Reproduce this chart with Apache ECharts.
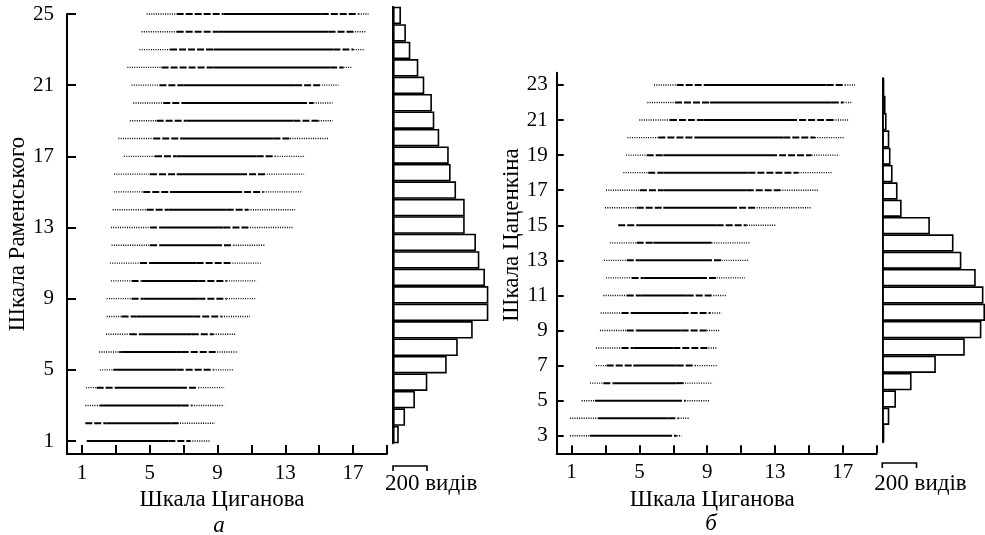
<!DOCTYPE html>
<html>
<head>
<meta charset="utf-8">
<script src="https://cdn.jsdelivr.net/npm/echarts@6/dist/echarts.min.js"></script>
<style>html,body{margin:0;padding:0;background:#fff}#c{width:985px;height:535px}</style>
</head>
<body>
<div id="c"></div>
<script>
// ---------- Panel а (Раменський vs Циганов) ----------
const leftRows      = [1,2,3,4,5,6,7,8,9,10,11,12,13,14,15,16,17,18,19,20,21,22,23,24,25];
const leftDotStart  = [1.28,1.2,1.2,1.24,2.06,2.02,2.42,2.46,2.46,2.71,2.65,2.75,2.71,2.81,2.89,2.89,3.48,3.15,3.83,4.03,3.93,3.68,4.39,4.52,4.82];
const leftDashStart = [1.28,1.2,2.06,1.87,2.85,3.2,3.83,3.34,3.93,3.93,4.43,5.02,5.02,4.82,4.62,5.02,5.31,5.21,5.41,5.8,5.57,5.7,6.2,6.59,6.59];
const leftSolidStart= [1.28,2.46,2.06,2.95,2.85,3.34,4.52,4.23,4.62,4.52,5.02,5.57,5.9,6.1,6.2,6.59,6.59,6.79,7.18,6.89,6.98,8.76,8.76,9.05,9.35];
const leftSolidEnd  = [6.1,6.3,6.89,6.79,6.59,6.89,7.48,7.57,7.87,7.87,7.77,8.85,9.35,9.54,10.04,10.33,11.31,12.3,13.48,13.87,13.58,15.65,15.84,15.55,15.15];
const leftDashEnd   = [7.38,6.79,7.48,7.87,8.76,8.85,8.76,9.25,9.54,9.54,9.74,9.94,10.92,10.82,11.71,11.91,12.4,13.28,14.96,14.66,15.15,16.43,17.02,17.12,17.32];
const leftDotEnd    = [8.56,8.85,9.39,9.39,9.98,10.17,10.04,10.92,11.22,11.31,11.55,11.81,13.48,13.58,13.97,14.11,14.17,15.55,15.8,15.78,16.14,16.93,17.71,17.77,17.91];
const leftSpecies   = [34,71,129,202,316,381,469,561,561,541,508,488,422,422,371,339,328,272,243,229,184,149,102,76,47];

// ---------- Panel б (Цаценкін vs Циганов) ----------
const rightRows      = [3,4,5,6,7,8,9,10,11,12,13,14,15,16,17,18,19,20,21,22,23];
const rightDotStart  = [0.9,0.9,1.59,2.08,2.44,2.44,2.67,2.71,2.87,3.03,2.91,3.26,3.75,2.97,3.03,4.05,4.21,4.29,4.99,5.47,5.86];
const rightDashStart = [2.08,2.57,2.38,2.87,3.07,3.95,4.25,3.95,4.25,4.54,4.25,4.84,3.75,4.84,5.03,5.52,5.43,6.12,6.8,7.1,7.2];
const rightSolidStart= [2.08,2.57,2.38,3.46,4.64,4.64,4.84,4.74,5.13,5.23,5.03,5.82,5.03,6.41,6.41,6.41,6.41,8.57,8.77,9.16,9.16];
const rightSolidEnd  = [6.51,6.71,7.1,7.2,7.2,7.0,7.49,7.49,7.79,8.57,8.87,9.26,9.56,10.35,11.33,11.43,12.71,13.49,13.89,16.35,16.05];
const rightDashEnd   = [7.2,7.3,7.69,7.69,8.28,9.07,8.97,9.16,9.36,9.56,9.85,9.26,11.33,11.92,13.3,14.38,15.16,15.36,16.44,17.03,17.13];
const rightDotEnd    = [7.49,7.93,9.16,9.32,9.62,9.56,9.75,9.85,10.11,11.23,11.43,11.53,13.06,15.11,15.56,16.38,16.8,17.13,17.37,17.58,17.72];
const rightSpecies   = [12,41,80,171,313,482,579,600,591,546,462,416,278,113,89,60,48,41,25,19,12];

// ---------- Ticks ----------
const xTickValues  = [1,3,5,7,9,11,13,15,17,19];
const xLabelValues = [1,5,9,13,17];
const leftYTicks   = [1,5,9,13,17,21,25];
const rightYTicks  = [3,5,7,9,11,13,15,17,19,21,23];
const scaleSpecies = 200;

const FONT = 'Liberation Serif';

function buildRows(rows, a, b, c, d, e, f) {
  return rows.map((r, i) => [r, a[i], b[i], c[i], d[i], e[i], f[i]]);
}

const STY = [
  {stroke:'#000', lineWidth:1.4, lineDash:[1,1.3]},
  {stroke:'#000', lineWidth:2, lineDash:[7,2]},
  {stroke:'#000', lineWidth:2},
  {stroke:'#000', lineWidth:2, lineDash:[7,2]},
  {stroke:'#000', lineWidth:1.4, lineDash:[1,1.3]}
];

function renderRow(params, api) {
  const y = api.value(0);
  const pts = [1,2,3,4,5,6].map(k => api.coord([api.value(k), y]));
  const children = [];
  for (let k = 0; k < 5; k++) {
    if (pts[k+1][0] - pts[k][0] > 0.5) {
      children.push({
        type: 'line',
        shape: {x1: pts[k][0], y1: pts[k][1], x2: pts[k+1][0], y2: pts[k+1][1]},
        style: STY[k]
      });
    }
  }
  return {type: 'group', children};
}

function tick(len, values) {
  return {show: true, inside: false, length: -len, customValues: values, lineStyle: {color: '#000', width: 2}};
}
function label(margin, values) {
  return {color: '#000', fontFamily: FONT, fontSize: 21, margin: margin, customValues: values};
}
function valueAxis(opts) {
  return Object.assign({
    type: 'value',
    axisLine: {show: true, lineStyle: {color: '#000', width: 2}},
    splitLine: {show: false}
  }, opts);
}

const chart = echarts.init(document.getElementById('c'), null, {renderer: 'canvas'});

const option = {
  animation: false,
  backgroundColor: '#fff',
  grid: [
    {left: 67, top: 14, width: 320, height: 440},
    {left: 393, top: 6.7, width: 102, height: 436.6},
    {left: 556.7, top: 72.7, width: 320, height: 380.6},
    {left: 882.3, top: 78.3, width: 102.9, height: 364}
  ],
  xAxis: [
    valueAxis({gridIndex: 0, min: 0.12, max: 19,
      axisTick: tick(9, xTickValues), axisLabel: label(9, xLabelValues),
      name: 'Шкала Циганова', nameLocation: 'middle', nameGap: 30,
      nameTextStyle: {color: '#000', fontFamily: FONT, fontSize: 23, padding: [0, 10, 0, 0]}}),
    {type: 'value', gridIndex: 1, min: 0, max: 600, show: false},
    valueAxis({gridIndex: 2, min: 0.12, max: 19,
      axisTick: tick(8, xTickValues), axisLabel: label(9, xLabelValues),
      name: 'Шкала Циганова', nameLocation: 'middle', nameGap: 30,
      nameTextStyle: {color: '#000', fontFamily: FONT, fontSize: 23, padding: [0, 9, 0, 0]}}),
    {type: 'value', gridIndex: 3, min: 0, max: 600, show: false}
  ],
  yAxis: [
    valueAxis({gridIndex: 0, min: 0.27, max: 25,
      axisTick: tick(9, leftYTicks), axisLabel: label(13, leftYTicks),
      name: 'Шкала Раменського', nameLocation: 'middle', nameGap: 37, nameRotate: 90,
      nameTextStyle: {color: '#000', fontFamily: FONT, fontSize: 23}}),
    {type: 'category', gridIndex: 1, data: leftRows.map(String),
      axisLine: {show: true, lineStyle: {color: '#000', width: 2}},
      axisTick: {show: false}, axisLabel: {show: false}},
    valueAxis({gridIndex: 2, min: 2, max: 23.7,
      axisTick: tick(7, rightYTicks), axisLabel: label(9, rightYTicks)}),
    {type: 'category', gridIndex: 3, data: rightRows.map(String),
      axisLine: {show: true, lineStyle: {color: '#000', width: 2}},
      axisTick: {show: false}, axisLabel: {show: false}}
  ],
  series: [
    {type: 'custom', xAxisIndex: 0, yAxisIndex: 0, renderItem: renderRow,
      encode: {x: [1,2,3,4,5,6], y: 0},
      data: buildRows(leftRows, leftDotStart, leftDashStart, leftSolidStart, leftSolidEnd, leftDashEnd, leftDotEnd)},
    {type: 'bar', xAxisIndex: 1, yAxisIndex: 1, data: leftSpecies, barCategoryGap: '0%',
      itemStyle: {color: '#fff', borderColor: '#000', borderWidth: 1.6}},
    {type: 'custom', xAxisIndex: 2, yAxisIndex: 2, renderItem: renderRow,
      encode: {x: [1,2,3,4,5,6], y: 0},
      data: buildRows(rightRows, rightDotStart, rightDashStart, rightSolidStart, rightSolidEnd, rightDashEnd, rightDotEnd)},
    {type: 'bar', xAxisIndex: 3, yAxisIndex: 3, data: rightSpecies, barCategoryGap: '0%',
      itemStyle: {color: '#fff', borderColor: '#000', borderWidth: 1.6}}
  ]
};
chart.setOption(option);

// Scale bars ("200 видів") from the histogram axes
function scaleBar(xAxisIndex, yLine, yText) {
  const x0 = chart.convertToPixel({xAxisIndex}, 0);
  const x1 = chart.convertToPixel({xAxisIndex}, scaleSpecies);
  return [
    {type: 'polyline', shape: {points: [[x0, yLine + 5], [x0, yLine], [x1, yLine], [x1, yLine + 5]]},
      style: {stroke: '#000', lineWidth: 1.6, fill: null}},
    {type: 'text', x: x0 - 8, y: yText,
      style: {text: scaleSpecies + ' видів', font: '23px "Liberation Serif"', fill: '#000', align: 'left', verticalAlign: 'middle'}}
  ];
}

chart.setOption({
  graphic: [
    ...scaleBar(1, 466, 484),
    ...scaleBar(3, 463, 484),
    {type: 'text', x: 512, y: 235, rotation: Math.PI / 2,
      style: {text: 'Шкала Цаценкіна', font: '23px "Liberation Serif"', fill: '#000', align: 'center', verticalAlign: 'middle'}},
    {type: 'text', x: 219, y: 526,
      style: {text: 'а', font: 'italic 23px "Liberation Serif"', fill: '#000', align: 'center', verticalAlign: 'middle'}},
    {type: 'text', x: 711, y: 524,
      style: {text: 'б', font: 'italic 23px "Liberation Serif"', fill: '#000', align: 'center', verticalAlign: 'middle'}}
  ]
});
</script>
</body>
</html>
